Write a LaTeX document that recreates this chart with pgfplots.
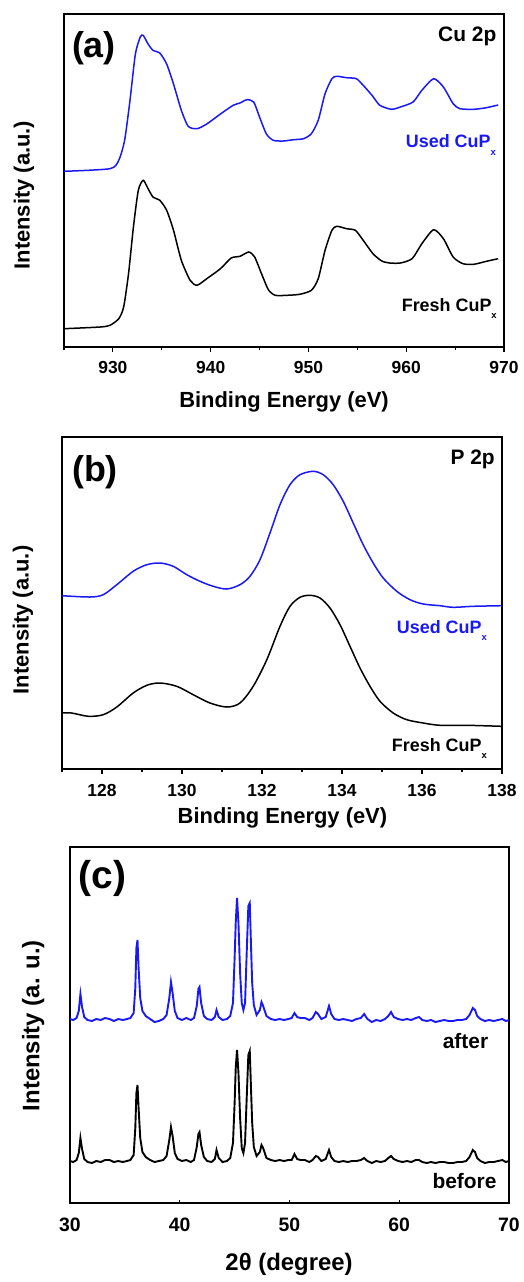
\documentclass[border=0pt]{standalone}
\usepackage{pgfplots}
\pgfplotsset{compat=1.18}
\usepackage{fontspec}
\setmainfont{Liberation Sans}
\definecolor{myblue}{RGB}{25,25,245}
\newcommand\fs[1]{\fontsize{#1}{#1}\selectfont\bfseries}
\newcommand\sub{\raisebox{-7.5bp}{\fontsize{9.5}{9.5}\selectfont x}}

\pgfplotstableread{
x y
925 175.7
929.7 178.3
930.6 186.7
931.2 206.7
931.75 246.7
932.3 293
932.8 310
933.1 311.7
933.6 303
934.1 296.7
934.8 294
935.5 283
936.2 263
937.0 236.7
937.7 220.7
938.6 218.3
939.6 223
941.0 233
942.3 241.7
943.0 244
943.7 247.3
944.4 245
945.0 230
945.7 213
946.4 206.7
947.4 206
948.5 207.3
949.5 208.3
950.3 213.3
951.0 226.7
951.7 253.3
952.4 268.3
952.9 270.7
953.9 269.3
954.9 268.3
955.6 261.7
956.5 251.7
957.3 241.7
958.5 237.7
959.4 240
960.7 245
961.6 256.7
962.8 268.3
963.8 260
964.8 243.3
965.5 238.3
966.9 237.7
968.2 239.3
969.4 242
}\cuUsed

\pgfplotstableread{
x y
925 18.3
928.7 20
929.7 21.7
930.6 28.3
931.1 40
931.6 73.3
932.1 120
932.6 156.7
933.1 166.7
933.6 158.3
934.1 150
934.8 146.7
935.5 136.7
936.2 116.7
937.0 86.7
937.9 66.7
938.6 61.7
939.6 68.3
941.0 78.3
942.1 89
943.0 90.7
943.9 95
944.5 90
945.2 73.3
945.9 57.3
946.6 51.7
947.8 51.7
949.1 52.7
950.3 56.7
951.0 68.3
951.7 96.7
952.4 116.7
952.9 120.7
953.9 118.3
954.8 116.7
955.6 106.7
956.6 93.3
957.5 86
958.3 84
959.4 84
960.6 88.3
961.6 103.3
962.8 117.3
963.8 108.3
964.8 90
965.8 83.3
966.9 82.7
968.2 85.7
969.4 88.3
}\cuFresh

\pgfplotstableread{
x y
127 173.3
127.7 172
128.03 174.3
128.37 184.3
128.78 197.7
129.12 204.3
129.45 206
129.78 202.7
130.12 194.3
130.45 187.7
130.78 182.7
131.12 180
131.45 184.3
131.7 192.7
131.95 209.3
132.2 236
132.45 264.3
132.7 284.3
132.95 294.3
133.28 297.7
133.53 294.3
133.78 284.3
134.03 267.7
134.28 246
134.53 224.3
134.78 206
135.03 191
135.37 177.7
135.7 169.3
136.03 165
136.45 163.3
136.78 161.7
137.28 162.7
137.99 163.3
}\pUsed

\pgfplotstableread{
x y
127 56
127.24 56
127.66 52.7
128.03 54.3
128.37 62
128.78 76
129.12 83.7
129.45 86
129.87 82.7
130.28 74.3
130.7 66
131.12 62
131.45 66
131.78 82.7
132.12 109.3
132.45 142.7
132.7 162.7
132.95 171.7
133.2 173.7
133.45 171
133.7 161
133.95 144.3
134.2 122.7
134.45 101
134.7 82.7
134.95 67.7
135.28 56
135.62 49.3
136.03 46
136.45 43.7
137.12 43.7
137.99 42.7
}\pFresh

\pgfplotstableread{
x y
30.0 184
30.3 183
30.6 185
30.8 192
30.95 209
31.1 196
31.3 186
31.6 183
32.0 182
32.4 184
32.8 183
33.2 185
33.6 184
34.0 182
34.4 184
34.8 183
35.2 184
35.5 185
35.8 190
35.95 215
36.05 255
36.15 263
36.25 235
36.4 205
36.6 192
36.9 187
37.3 184
37.7 181
38.1 182
38.5 184
38.8 188
39.05 205
39.2 221
39.35 210
39.55 192
39.8 185
40.2 183
40.6 185
41.0 183
41.3 185
41.55 197
41.7 214
41.8 216
41.95 200
42.2 187
42.5 184
42.9 183
43.2 186
43.35 193
43.55 186
43.9 183
44.3 184
44.6 187
44.85 200
45.0 245
45.1 280
45.22 305
45.35 280
45.5 230
45.65 200
45.8 193
45.95 200
46.1 250
46.25 297
46.38 300
46.5 255
46.6 220
46.75 198
47.0 188
47.3 193
47.45 201
47.6 197
47.9 187
48.3 184
48.7 183
49.1 184
49.5 183
49.9 184
50.2 185
50.45 190
50.7 186
51.0 185
51.4 185
51.8 183
52.1 185
52.4 191
52.6 189
52.9 184
53.3 186
53.6 197
53.8 189
54.1 184
54.5 183
54.9 184
55.3 183
55.7 182
56.1 184
56.5 185
56.8 189
57.1 184
57.5 181
57.9 183
58.3 182
58.7 184
59.0 187
59.25 191
59.5 186
59.9 184
60.3 183
60.7 184
61.1 183
61.5 185
61.8 186
62.1 183
62.5 182
62.9 183
63.3 181
63.7 182
64.1 183
64.5 182
64.9 182
65.3 183
65.7 183
66.1 184
66.4 188
66.7 195
66.9 193
67.1 187
67.4 184
67.8 182
68.2 183
68.6 182
69.0 183
69.4 184
69.7 182
70.0 183
}\xrdAfter

\pgfplotstableread{
x y
30.0 42
30.3 41
30.6 43
30.8 50
30.95 65
31.1 54
31.3 44
31.6 41
32.0 40
32.4 42
32.8 41
33.2 43
33.6 43
34.0 41
34.4 42
34.8 41
35.2 42
35.5 43
35.8 48
35.95 75
36.05 110
36.15 118
36.25 95
36.4 65
36.6 51
36.9 46
37.3 43
37.7 41
38.1 42
38.5 43
38.8 47
39.05 63
39.2 76
39.35 67
39.55 50
39.8 44
40.2 42
40.6 43
41.0 41
41.3 43
41.55 56
41.7 69
41.8 71
41.95 58
42.2 46
42.5 42
42.9 41
43.2 44
43.35 53
43.55 45
43.9 41
44.3 42
44.6 45
44.85 60
45.0 100
45.1 135
45.22 153
45.35 130
45.5 85
45.65 55
45.8 50
45.95 60
46.1 105
46.25 148
46.38 152
46.5 112
46.6 80
46.75 56
47.0 47
47.3 51
47.45 58
47.6 55
47.9 45
48.3 43
48.7 42
49.1 43
49.5 42
49.9 43
50.2 43
50.45 49
50.7 44
51.0 43
51.4 43
51.8 41
52.1 43
52.4 47
52.6 46
52.9 42
53.3 44
53.6 53
53.8 46
54.1 42
54.5 41
54.9 42
55.3 41
55.7 42
56.1 42
56.5 43
56.8 45
57.1 42
57.5 40
57.9 42
58.3 41
58.7 42
59.0 45
59.25 47
59.5 44
59.9 42
60.3 41
60.7 42
61.1 41
61.5 43
61.8 43
62.1 41
62.5 40
62.9 41
63.3 40
63.7 41
64.1 41
64.5 40
64.9 40
65.3 41
65.7 41
66.1 42
66.4 46
66.7 53
66.9 51
67.1 45
67.4 42
67.8 40
68.2 41
68.6 41
69.0 42
69.4 43
69.7 41
70.0 42
}\xrdBefore

\begin{document}
\begin{tikzpicture}
\pgfplotsset{
  panel/.style={
    anchor=south west, scale only axis,
    axis line style={line width=1.2bp},
    ytick=\empty, xtick pos=left,
    /pgf/number format/assume math mode=true,
    /pgf/number format/1000 sep={},
    tick style={line width=1.1bp, black},
    clip mode=individual,
  },
}
% ---------- (a)
\begin{axis}[panel, at={(64bp,-347bp)}, width=440bp, height=333bp,
  xmin=925, xmax=970, ymin=0, ymax=333,
  xtick={930,940,950,960,970}, minor xtick={925,935,945,955,965},
  tick align=outside, major tick length=4.5bp, minor tick length=3bp,
  xticklabel style={font=\fs{17.5}, yshift=-6bp},
]
\addplot[myblue, line width=1.5bp, smooth, tension=0.4] table {\cuUsed};
\addplot[black, line width=1.5bp, smooth, tension=0.4] table {\cuFresh};
\node[font=\fs{36}] at (rel axis cs:0.068,0.898) {(a)};
\node[font=\fs{21}, anchor=base east, inner sep=0pt] at (rel axis cs:0.983,0.917) {Cu 2p};
\node[font=\fs{18}, text=myblue, anchor=base east, inner sep=0pt] at (rel axis cs:0.982,0.598) {Used CuP\sub};
\node[font=\fs{18}, anchor=base east, inner sep=0pt] at (rel axis cs:0.984,0.108) {Fresh CuP\sub};
\node[font=\fs{22}] at (rel axis cs:0.5,-0.164) {Binding Energy (eV)};
\node[font=\fs{22}, rotate=90] at (rel axis cs:-0.091,0.456) {Intensity (a.u.)};
\end{axis}
% ---------- (b)
\begin{axis}[panel, at={(62bp,-769bp)}, width=440bp, height=332bp,
  xmin=127, xmax=138, ymin=0, ymax=332,
  xtick={128,130,...,138}, minor xtick={127,129,...,137},
  tick align=outside, major tick length=4.5bp, minor tick length=3bp,
  xticklabel style={font=\fs{17.5}, yshift=-7bp},
]
\addplot[myblue, line width=1.5bp, smooth, tension=0.5] table {\pUsed};
\addplot[black, line width=1.5bp, smooth, tension=0.5] table {\pFresh};
\node[font=\fs{36}] at (rel axis cs:0.075,0.893) {(b)};
\node[font=\fs{21}, anchor=base east, inner sep=0pt] at (rel axis cs:0.984,0.916) {P 2p};
\node[font=\fs{18}, text=myblue, anchor=base east, inner sep=0pt] at (rel axis cs:0.966,0.409) {Used CuP\sub};
\node[font=\fs{18}, anchor=base east, inner sep=0pt] at (rel axis cs:0.966,0.054) {Fresh CuP\sub};
\node[font=\fs{22}] at (rel axis cs:0.501,-0.146) {Binding Energy (eV)};
\node[font=\fs{22}, rotate=90] at (rel axis cs:-0.089,0.449) {Intensity (a.u.)};
\end{axis}
% ---------- (c)
\begin{axis}[panel, at={(70bp,-1203bp)}, width=439bp, height=356bp,
  xmin=30, xmax=70, ymin=0, ymax=356,
  xtick={30,40,...,70},
  tick align=inside, major tick length=3.5bp,
  xticklabel style={font=\fs{19.5}, yshift=-11bp},
]
\addplot[myblue, line width=1.9bp] table {\xrdAfter};
\addplot[black, line width=1.9bp] table {\xrdBefore};
\node[font=\fs{39}] at (rel axis cs:0.074,0.912) {(c)};
\node[font=\fs{21}, anchor=base east, inner sep=0pt] at (rel axis cs:0.953,0.435) {after};
\node[font=\fs{21}, anchor=base east, inner sep=0pt] at (rel axis cs:0.972,0.041) {before};
\node[font=\fs{24}] at (rel axis cs:0.499,-0.171) {2θ (degree)};
\node[font=\fs{24}, rotate=90] at (rel axis cs:-0.084,0.498) {Intensity (a. u.)};
\end{axis}
\pgfresetboundingbox
\path[use as bounding box] (0,0) rectangle (524bp,-1282bp);
\end{tikzpicture}
\end{document}
